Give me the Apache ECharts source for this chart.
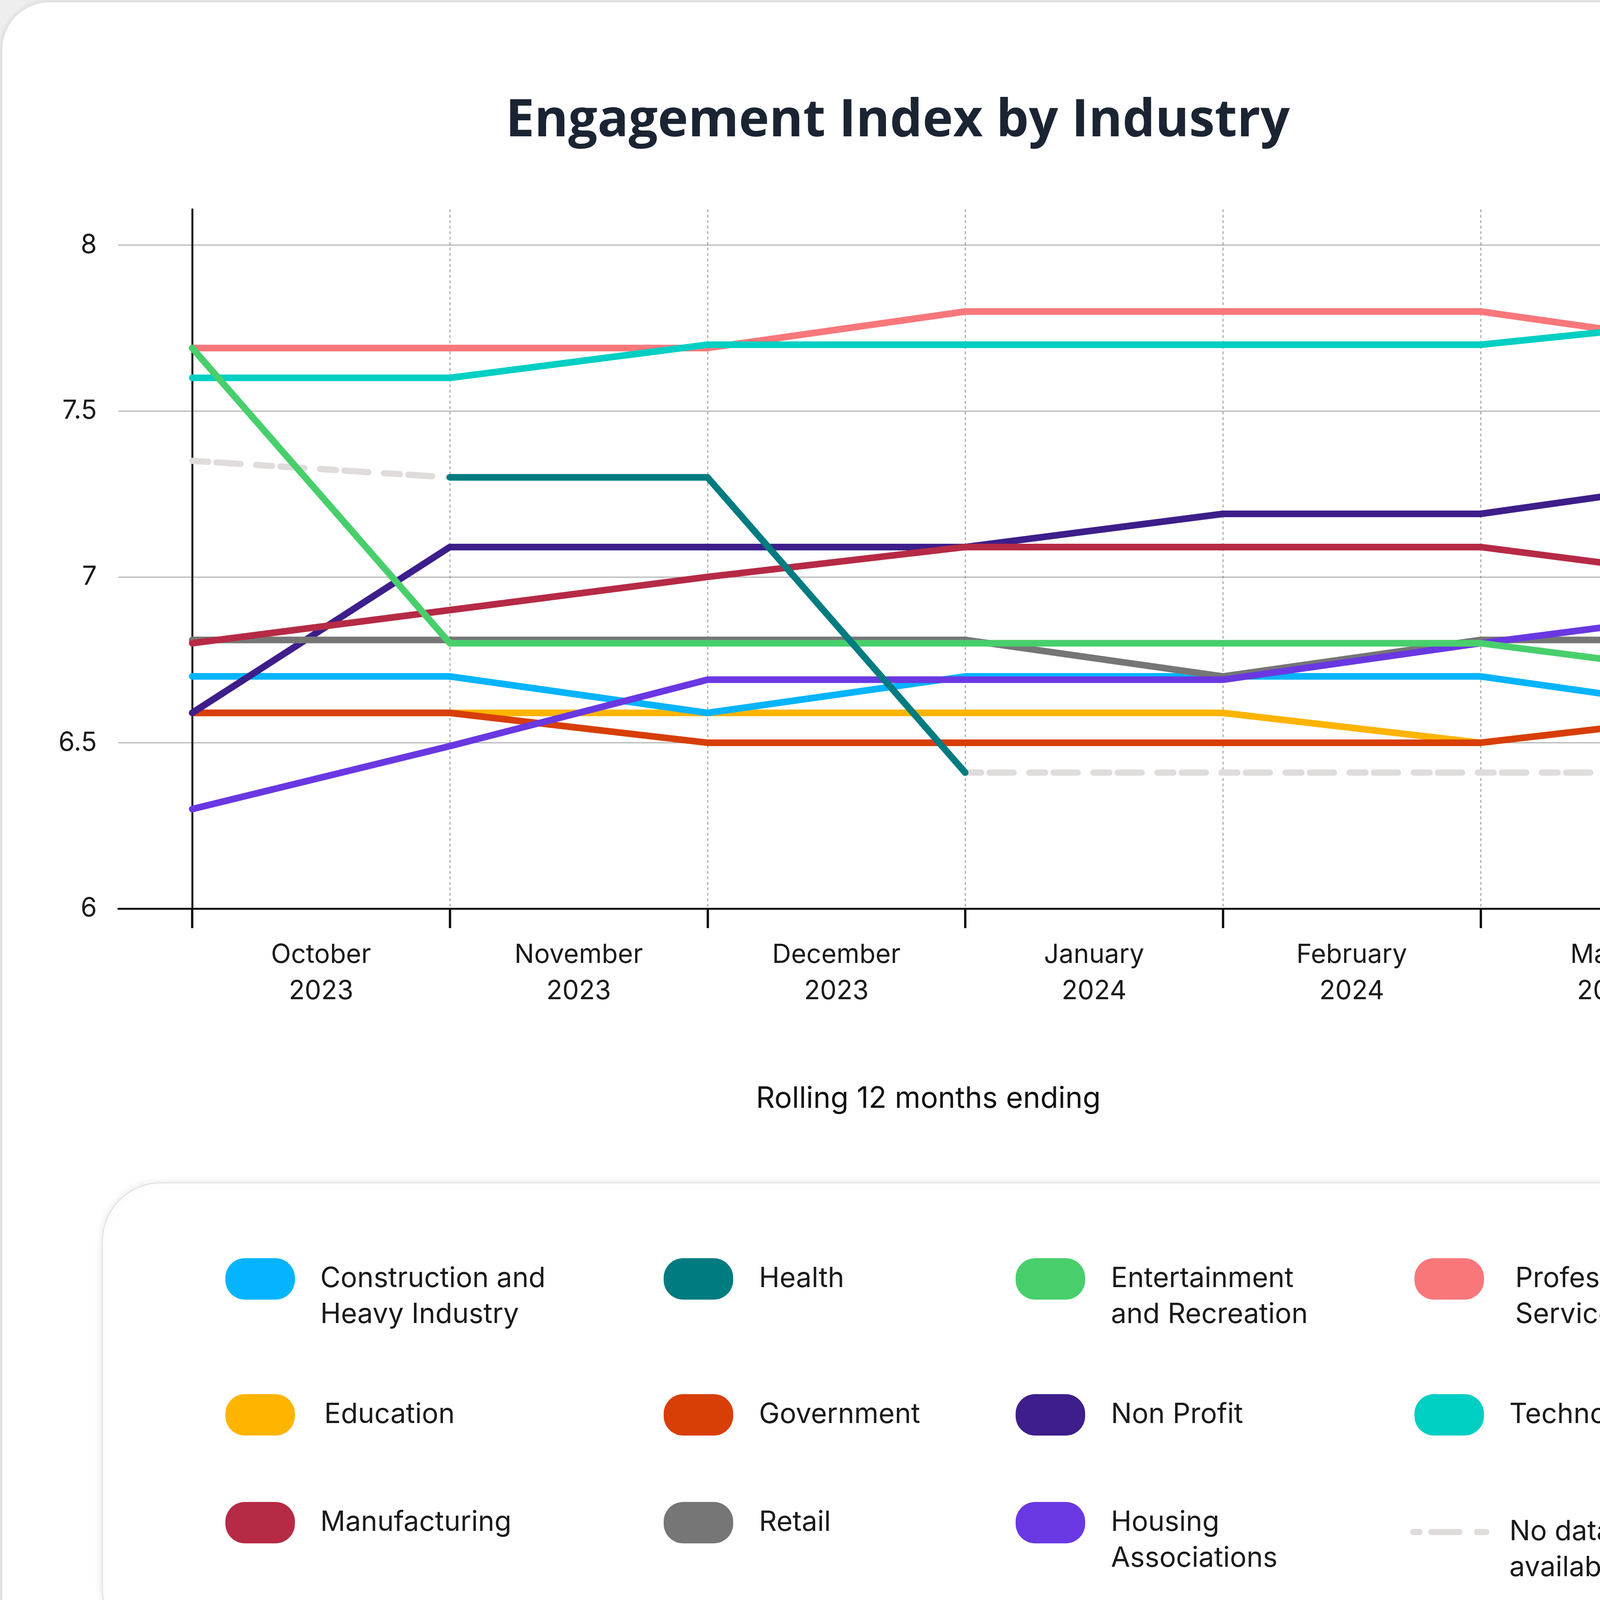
<!DOCTYPE html>
<html>
<head>
<meta charset="utf-8">
<title>Engagement Index by Industry</title>
<script src="https://cdn.jsdelivr.net/npm/echarts@6.0.0/dist/echarts.min.js"></script>
<style>
    html, body { margin: 0; padding: 0; background: #eeeeee; }
    #card { position: absolute; left: 6px; top: 6px; width: 4716px; height: 4436px; background: #ffffff;
        border-radius: 120px; box-shadow: 0 0 16px rgba(0, 0, 0, 0.14); }
    #main { position: absolute; left: 0; top: 0; width: 4728px; height: 4448px; }
</style>
</head>
<body>
<div id="card"></div>
<div id="main"></div>
<script>
    // months labels sit between the 7 measurement points
    var months = ['October\n2023', 'November\n2023', 'December\n2023', 'January\n2024', 'February\n2024', 'March\n2024'];
    var points = [0, 1, 2, 3, 4, 5, 6];
    var yTicks = [6, 6.5, 7, 7.5, 8];

    var construction = [6.7, 6.7, 6.59, 6.7, 6.7, 6.7, 6.59];
    var health = [null, 7.3, 7.3, 6.41, null, null, null];
    var entertainment = [7.69, 6.8, 6.8, 6.8, 6.8, 6.8, 6.7];
    var professional = [7.69, 7.69, 7.69, 7.8, 7.8, 7.8, 7.69];
    var education = [6.59, 6.59, 6.59, 6.59, 6.59, 6.5, 6.59];
    var government = [6.59, 6.59, 6.5, 6.5, 6.5, 6.5, 6.59];
    var nonProfit = [6.59, 7.09, 7.09, 7.09, 7.19, 7.19, 7.3];
    var technology = [7.6, 7.6, 7.7, 7.7, 7.7, 7.7, 7.78];
    var manufacturing = [6.8, 6.9, 7.0, 7.09, 7.09, 7.09, 6.99];
    var retail = [6.81, 6.81, 6.81, 6.81, 6.7, 6.81, 6.81];
    var housing = [6.3, 6.49, 6.69, 6.69, 6.69, 6.8, 6.9];
    var noData = [7.35, 7.3, null, 6.41, 6.41, 6.41, 6.41];

    var font = 'Inter';
    var ink = '#1a1a1a';
    var pill = 'path://M50,0H128A50,50,0,0,1,178,50V56A50,50,0,0,1,128,106H50A50,50,0,0,1,0,56V50A50,50,0,0,1,50,0Z';
    var dashIcon = 'path://M8,0H24A8,8,0,0,1,24,16H8A8,8,0,0,1,8,0Z' +
        'M54,0H126A8,8,0,0,1,126,16H54A8,8,0,0,1,54,0Z' +
        'M171,0H195A8,8,0,0,1,195,16H171A8,8,0,0,1,171,0Z';

    // name, legend text, colour, data, draw order, legend column/row, text indent
    var industries = [
        {name: 'Construction and Heavy Industry', label: 'Construction and\nHeavy Industry', color: '#05b4ff', data: construction, z: 3, col: 0, row: 0, pad: 60},
        {name: 'Health', label: 'Health', color: '#007b80', data: health, z: 12, col: 1, row: 0, pad: 61},
        {name: 'Entertainment and Recreation', label: 'Entertainment\nand Recreation', color: '#48cf6c', data: entertainment, z: 11, col: 2, row: 0, pad: 61},
        {name: 'Professional Services', label: 'Professional\nServices', color: '#f8777b', data: professional, z: 7, col: 3, row: 0, pad: 75},
        {name: 'Education', label: 'Education', color: '#ffb400', data: education, z: 2, col: 0, row: 1, pad: 70},
        {name: 'Government', label: 'Government', color: '#d83e08', data: government, z: 4, col: 1, row: 1, pad: 61},
        {name: 'Non Profit', label: 'Non Profit', color: '#3d1e8a', data: nonProfit, z: 5, col: 2, row: 1, pad: 61},
        {name: 'Technology', label: 'Technology', color: '#00cfc3', data: technology, z: 8, col: 3, row: 1, pad: 60},
        {name: 'Manufacturing', label: 'Manufacturing', color: '#b62a45', data: manufacturing, z: 9, col: 0, row: 2, pad: 60},
        {name: 'Retail', label: 'Retail', color: '#767676', data: retail, z: 6, col: 1, row: 2, pad: 61},
        {name: 'Housing Associations', label: 'Housing\nAssociations', color: '#6a38e2', data: housing, z: 10, col: 2, row: 2, pad: 61}
    ];

    var colLeft = [577, 1699, 2600, 3621];
    var rowTop = [3228, 3576, 3852];
    var lineH = 92;

    function toPairs(arr) {
        return arr.map(function (v, i) {
            return [points[i], v == null ? '-' : v];
        });
    }

    var series = [], legends = [];

    industries.forEach(function (ind) {
        series.push({
            name: ind.name,
            type: 'line',
            xAxisIndex: 0,
            yAxisIndex: 0,
            z: ind.z,
            symbol: 'none',
            showSymbol: false,
            connectNulls: false,
            lineStyle: {color: ind.color, width: 17, cap: 'round', join: 'round'},
            itemStyle: {color: ind.color},
            emphasis: {disabled: true},
            data: toPairs(ind.data)
        });
        var twoLine = ind.label.indexOf('\n') >= 0;
        // a blank first line keeps the first text line level with the icon
        var text = twoLine ? '\n' + ind.label : ind.label;
        legends.push({
            data: [ind.name],
            left: colLeft[ind.col],
            top: twoLine ? rowTop[ind.row] - 92 : rowTop[ind.row] - 7,
            padding: 0,
            icon: pill,
            itemWidth: 178,
            itemHeight: 106,
            selectedMode: false,
            formatter: function () { return text; },
            textStyle: {fontFamily: font, fontSize: 71, lineHeight: lineH, color: ink,
                padding: [0, 0, 0, ind.pad]}
        });
    });

    series.push({
        name: 'No data available',
        type: 'line',
        xAxisIndex: 0,
        yAxisIndex: 0,
        z: 1,
        symbol: 'none',
        showSymbol: false,
        connectNulls: false,
        lineStyle: {color: '#e0dcdc', width: 16, cap: 'round', type: [41, 21, 62, 40]},
        itemStyle: {color: '#e0dcdc'},
        emphasis: {disabled: true},
        data: toPairs(noData)
    });
    legends.push({
        data: ['No data available'],
        left: 3610,
        top: 3784,
        padding: 0,
        icon: dashIcon,
        itemWidth: 203,
        itemHeight: 16,
        selectedMode: false,
        formatter: function () { return '\nNo data\navailable'; },
        textStyle: {fontFamily: font, fontSize: 71, lineHeight: lineH, color: ink, padding: [0, 0, 0, 46]}
    });

    var myChart = echarts.init(document.getElementById('main'), null, {renderer: 'canvas'});

    var option = {
        backgroundColor: 'transparent',
        animation: false,
        title: {
            text: 'Engagement Index by Industry',
            left: 2293,
            top: 240,
            textAlign: 'center',
            textStyle: {fontFamily: 'Open Sans', fontWeight: 'bold', fontSize: 132, color: '#1b2432'}
        },
        graphic: [{
            type: 'rect',
            z: -1,
            silent: true,
            shape: {x: 262, y: 3028, width: 4237, height: 1188, r: 150},
            style: {fill: '#ffffff', stroke: '#e3e3e3', lineWidth: 3, shadowBlur: 24, shadowColor: 'rgba(0,0,0,0.10)'}
        }],
        legend: legends,
        grid: [
            {left: 303, right: 278, top: 536, bottom: 2122},
            {left: 492, right: 278, top: 536, bottom: 2122}
        ],
        xAxis: [
            {
                type: 'value',
                gridIndex: 0,
                min: -0.2865,
                max: 6,
                axisLine: {show: true, onZero: false, lineStyle: {color: '#111111', width: 5}},
                axisTick: {show: false},
                axisLabel: {show: false},
                splitLine: {show: false},
                name: 'Rolling 12 months ending',
                nameLocation: 'middle',
                nameGap: 450,
                nameTextStyle: {fontFamily: font, fontSize: 75, color: '#111111'}
            },
            {
                type: 'category',
                gridIndex: 1,
                data: months,
                boundaryGap: true,
                axisLine: {show: false},
                axisTick: {show: true, interval: 0, length: 50, lineStyle: {color: '#111111', width: 6}},
                axisLabel: {interval: 0, margin: 72, fontFamily: font, fontSize: 67, lineHeight: 93, color: ink},
                splitLine: {show: true, interval: 0, lineStyle: {color: '#8a8a8a', width: 2, type: [7, 7]}}
            }
        ],
        yAxis: [
            {
                type: 'value',
                gridIndex: 0,
                min: 6,
                max: 8.108,
                interval: 0.5,
                axisLine: {show: true, lineStyle: {color: '#111111', width: 5}},
                axisTick: {show: false},
                axisLabel: {
                    margin: 55, fontFamily: font, fontSize: 67, color: ink,
                    formatter: function (v) {
                        return yTicks.indexOf(Math.round(v * 100) / 100) >= 0 ? String(v) : '';
                    }
                },
                splitLine: {show: true, showMinLine: false, showMaxLine: false, lineStyle: {color: '#ababab', width: 2.5}}
            },
            {
                type: 'value',
                gridIndex: 1,
                min: 6,
                max: 8.108,
                show: false
            }
        ],
        series: series
    };

    myChart.setOption(option);
</script>
</body>
</html>
